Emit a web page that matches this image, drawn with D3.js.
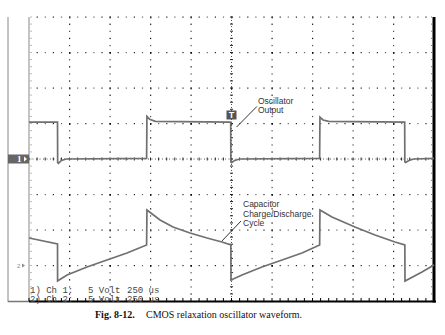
<!DOCTYPE html>
<html><head><meta charset="utf-8">
<script src="https://cdn.jsdelivr.net/npm/d3@7"></script>
<style>html,body{margin:0;padding:0;background:#fff;}svg{display:block;}</style>
</head><body>
<script>
// ---- data ----
const timeDomain = [0, 2500];          // µs, 250 µs/div, 10 div
const divDomain = [0, 8];              // vertical divisions
const voltsPerDiv = 5;
const ch1Offset = 4;                   // ground position in divisions from bottom
const ch2Offset = 1;
const ch1Time = [0, 176, 177, 182, 200, 230, 726, 728, 745, 780, 1245, 1246, 1251, 1270, 1300, 1794, 1796, 1815, 1850, 2319, 2320, 2325, 2345, 2375, 2500];
const ch1Volt = [5.2, 5.2, -0.5, -0.6, -0.2, 0.0, 0.1, 6.0, 5.6, 5.3, 5.2, -0.4, -0.5, -0.2, 0.0, 0.1, 5.9, 5.5, 5.3, 5.2, -0.4, -0.5, -0.2, 0.0, 0.1];
const ch2Time = [0, 176, 176.5, 235, 358, 481, 605, 726, 728, 809, 889, 994, 1099, 1191, 1246, 1247, 1315, 1438, 1562, 1685, 1794, 1796, 1870, 2012, 2136, 2259, 2320, 2321, 2426, 2500];
const ch2Volt = [3.87, 3.03, -2.18, -1.34, -0.21, 0.77, 1.76, 2.89, 7.82, 6.41, 5.42, 4.58, 3.87, 3.31, 2.89, -2.04, -1.34, -0.21, 0.77, 1.76, 2.89, 7.82, 6.83, 5.42, 4.30, 3.31, 2.89, -2.18, -0.92, 0.07];
const trigTime = 1250, trigVolt = 6.2;
const statusLines = [["1) Ch 1:", "5 Volt", "250 us"], ["2) Ch 2:", "5 Volt", "250 us"]];
const annotations = [
  {lines: ["Oscillator", "Output"], t: 1413, v: 7.75, ch: 1, gap: 8.8, lt: 1407, lv: 7.4, pt: 1281, pv: 4.5},
  {lines: ["Capacitor", "Charge/Discharge", "Cycle"], t: 1321, v: 8.24, ch: 2, gap: 9.6, lt: 1309, lv: 6.27, pt: 1191, pv: 3.45}
];
const captionBold = "Fig. 8-12.";
const captionText = "CMOS relaxation oscillator waveform.";

// ---- chart ----
const W = 445, H = 335;
const svg = d3.select("body").append("svg").attr("width", W).attr("height", H);
svg.append("rect").attr("width", W).attr("height", H).attr("fill", "#fff");

const x = d3.scaleLinear().domain(timeDomain).range([29, 434]);
const yd = d3.scaleLinear().domain(divDomain).range([301, 17]);
const y1 = v => yd(ch1Offset + v / voltsPerDiv);
const y2 = v => yd(ch2Offset + v / voltsPerDiv);

const majorT = d3.range(0, 2501, 250);
const minorT = d3.range(0, 2501, 50);
const majorD = d3.range(0, 9, 1);
const minorD = d3.range(0, 8.001, 0.2);

const g = svg.append("g");
// dotted grid: horizontal major lines
majorD.filter(d => d > 0 && d !== 4).forEach(d => {
  minorT.forEach((t, i) => {
    if (i === 0 || t === 2500) return;
    const major = (t % 250 === 0);
    g.append("rect").attr("x", x(t) - 0.5).attr("y", yd(d) - 0.5)
      .attr("width", major ? 1.4 : 1.2).attr("height", major ? 1.8 : 1.2)
      .attr("fill", major ? "#000" : (i % 2 ? "#222" : "#666"));
  });
});
// vertical major lines
majorT.filter(t => t > 0 && t < 2500 && t !== 1250).forEach(t => {
  minorD.forEach((d, i) => {
    if (i === 0) return;
    g.append("rect").attr("x", x(t) - 0.5).attr("y", yd(d) - 0.5)
      .attr("width", 1.2).attr("height", 1.3)
      .attr("fill", i % 2 ? "#111" : "#555");
  });
});
// centre lines (denser dots + ticks)
g.append("line").attr("x1", x(1250)).attr("x2", x(1250)).attr("y1", yd(8)).attr("y2", yd(0))
  .attr("stroke", "#555").attr("stroke-width", 1).attr("stroke-dasharray", "1,2");
minorD.forEach(d => g.append("line").attr("x1", x(1250) - 1.5).attr("x2", x(1250) + 1.5)
  .attr("y1", yd(d)).attr("y2", yd(d)).attr("stroke", "#222").attr("stroke-width", 1));
g.append("line").attr("x1", x(0)).attr("x2", x(2500)).attr("y1", yd(4)).attr("y2", yd(4))
  .attr("stroke", "#555").attr("stroke-width", 1).attr("stroke-dasharray", "1,2.5");
minorT.forEach(t => g.append("line").attr("x1", x(t)).attr("x2", x(t))
  .attr("y1", yd(4) - 1.5).attr("y2", yd(4) + 1.5).attr("stroke", "#222").attr("stroke-width", 1));
// right edge inner ticks
minorD.forEach(d => g.append("rect").attr("x", x(2500) - 3).attr("y", yd(d) - 0.5)
  .attr("width", 1).attr("height", 1).attr("fill", "#777"));
// left edge inner ticks
minorD.forEach(d => g.append("rect").attr("x", x(0) + 1.5).attr("y", yd(d) - 0.5)
  .attr("width", 1).attr("height", 1).attr("fill", "#777"));

// frame
g.append("line").attr("x1", 8).attr("x2", 8).attr("y1", yd(8)).attr("y2", yd(0) + 1)
  .attr("stroke", "#888").attr("stroke-width", 1);
g.append("line").attr("x1", x(0)).attr("x2", x(0)).attr("y1", yd(8)).attr("y2", yd(0))
  .attr("stroke", "#888").attr("stroke-width", 1);
g.append("line").attr("x1", 8).attr("x2", x(0)).attr("y1", yd(0) + 0.5).attr("y2", yd(0) + 0.5)
  .attr("stroke", "#777").attr("stroke-width", 1.5);
g.append("line").attr("x1", x(0)).attr("x2", x(2500) + 2).attr("y1", yd(0) + 0.5).attr("y2", yd(0) + 0.5)
  .attr("stroke", "#000").attr("stroke-width", 1.8);
minorT.forEach(t => g.append("line").attr("x1", x(t)).attr("x2", x(t))
  .attr("y1", yd(0)).attr("y2", yd(0) - 3).attr("stroke", "#000").attr("stroke-width", 1));
g.append("line").attr("x1", x(2500)).attr("x2", x(2500)).attr("y1", yd(8)).attr("y2", yd(0) + 1.5)
  .attr("stroke", "#000").attr("stroke-width", 3);

// traces
const line1 = d3.line().x((d, i) => x(ch1Time[i])).y((d, i) => y1(ch1Volt[i]));
const line2 = d3.line().x((d, i) => x(ch2Time[i])).y((d, i) => y2(ch2Volt[i]));
svg.append("path").attr("d", line1(ch1Time)).attr("fill", "none")
  .attr("stroke", "#707070").attr("stroke-width", 1.7);
svg.append("path").attr("d", line2(ch2Time)).attr("fill", "none")
  .attr("stroke", "#707070").attr("stroke-width", 1.7);

// channel markers
const m1 = y1(0);
svg.append("rect").attr("x", 8).attr("y", m1 - 4.5).attr("width", 21).attr("height", 9).attr("fill", "#666");
svg.append("text").attr("x", 17).attr("y", m1 + 3).attr("fill", "#fff")
  .attr("font-family", "Liberation Serif").attr("font-weight", "bold").attr("font-size", 9).text("1");
svg.append("path").attr("d", `M24,${m1 - 2.5}L27,${m1}L24,${m1 + 2.5}Z`).attr("fill", "#fff");
const m2 = y2(0);
svg.append("text").attr("x", 17).attr("y", m2 + 2.5).attr("fill", "#888")
  .attr("font-family", "Liberation Sans").attr("font-size", 6).text("2");
svg.append("path").attr("d", `M22,${m2 - 2}L25,${m2}L22,${m2 + 2}Z`).attr("fill", "#888");

// trigger marker
const tx = x(trigTime), ty = y1(trigVolt);
svg.append("rect").attr("x", tx - 5).attr("y", ty - 4.5).attr("width", 10).attr("height", 9).attr("fill", "#555");
svg.append("text").attr("x", tx).attr("y", ty + 3.5).attr("text-anchor", "middle").attr("fill", "#fff")
  .attr("font-family", "Liberation Sans").attr("font-weight", "bold").attr("font-size", 9).text("T");

// annotations
annotations.forEach(a => {
  const yy = a.ch === 1 ? y1 : y2;
  const t = svg.append("text").attr("font-family", "Liberation Sans").attr("font-size", 8.5).attr("fill", "#333");
  a.lines.forEach((s, i) => t.append("tspan").attr("x", x(a.t)).attr("y", yy(a.v) + i * a.gap).text(s));
  svg.append("line").attr("x1", x(a.lt)).attr("y1", yy(a.lv)).attr("x2", x(a.pt)).attr("y2", yy(a.pv))
    .attr("stroke", "#333").attr("stroke-width", 1);
});

// status lines
statusLines.forEach((row, i) => {
  const by = 292.5 + i * 9;
  const xs = [30, 88, 127];
  row.forEach((s, j) => svg.append("text").attr("x", xs[j]).attr("y", by)
    .attr("font-family", "Liberation Mono").attr("font-size", 9).attr("fill", "#444").text(s));
});

// caption
const cap = svg.append("text").attr("y", 318).attr("font-family", "Liberation Serif").attr("font-size", 10).attr("fill", "#111");
cap.append("tspan").attr("x", 95).attr("font-weight", "bold").text(captionBold);
cap.append("tspan").attr("x", 146).text(captionText);
</script>
</body></html>
